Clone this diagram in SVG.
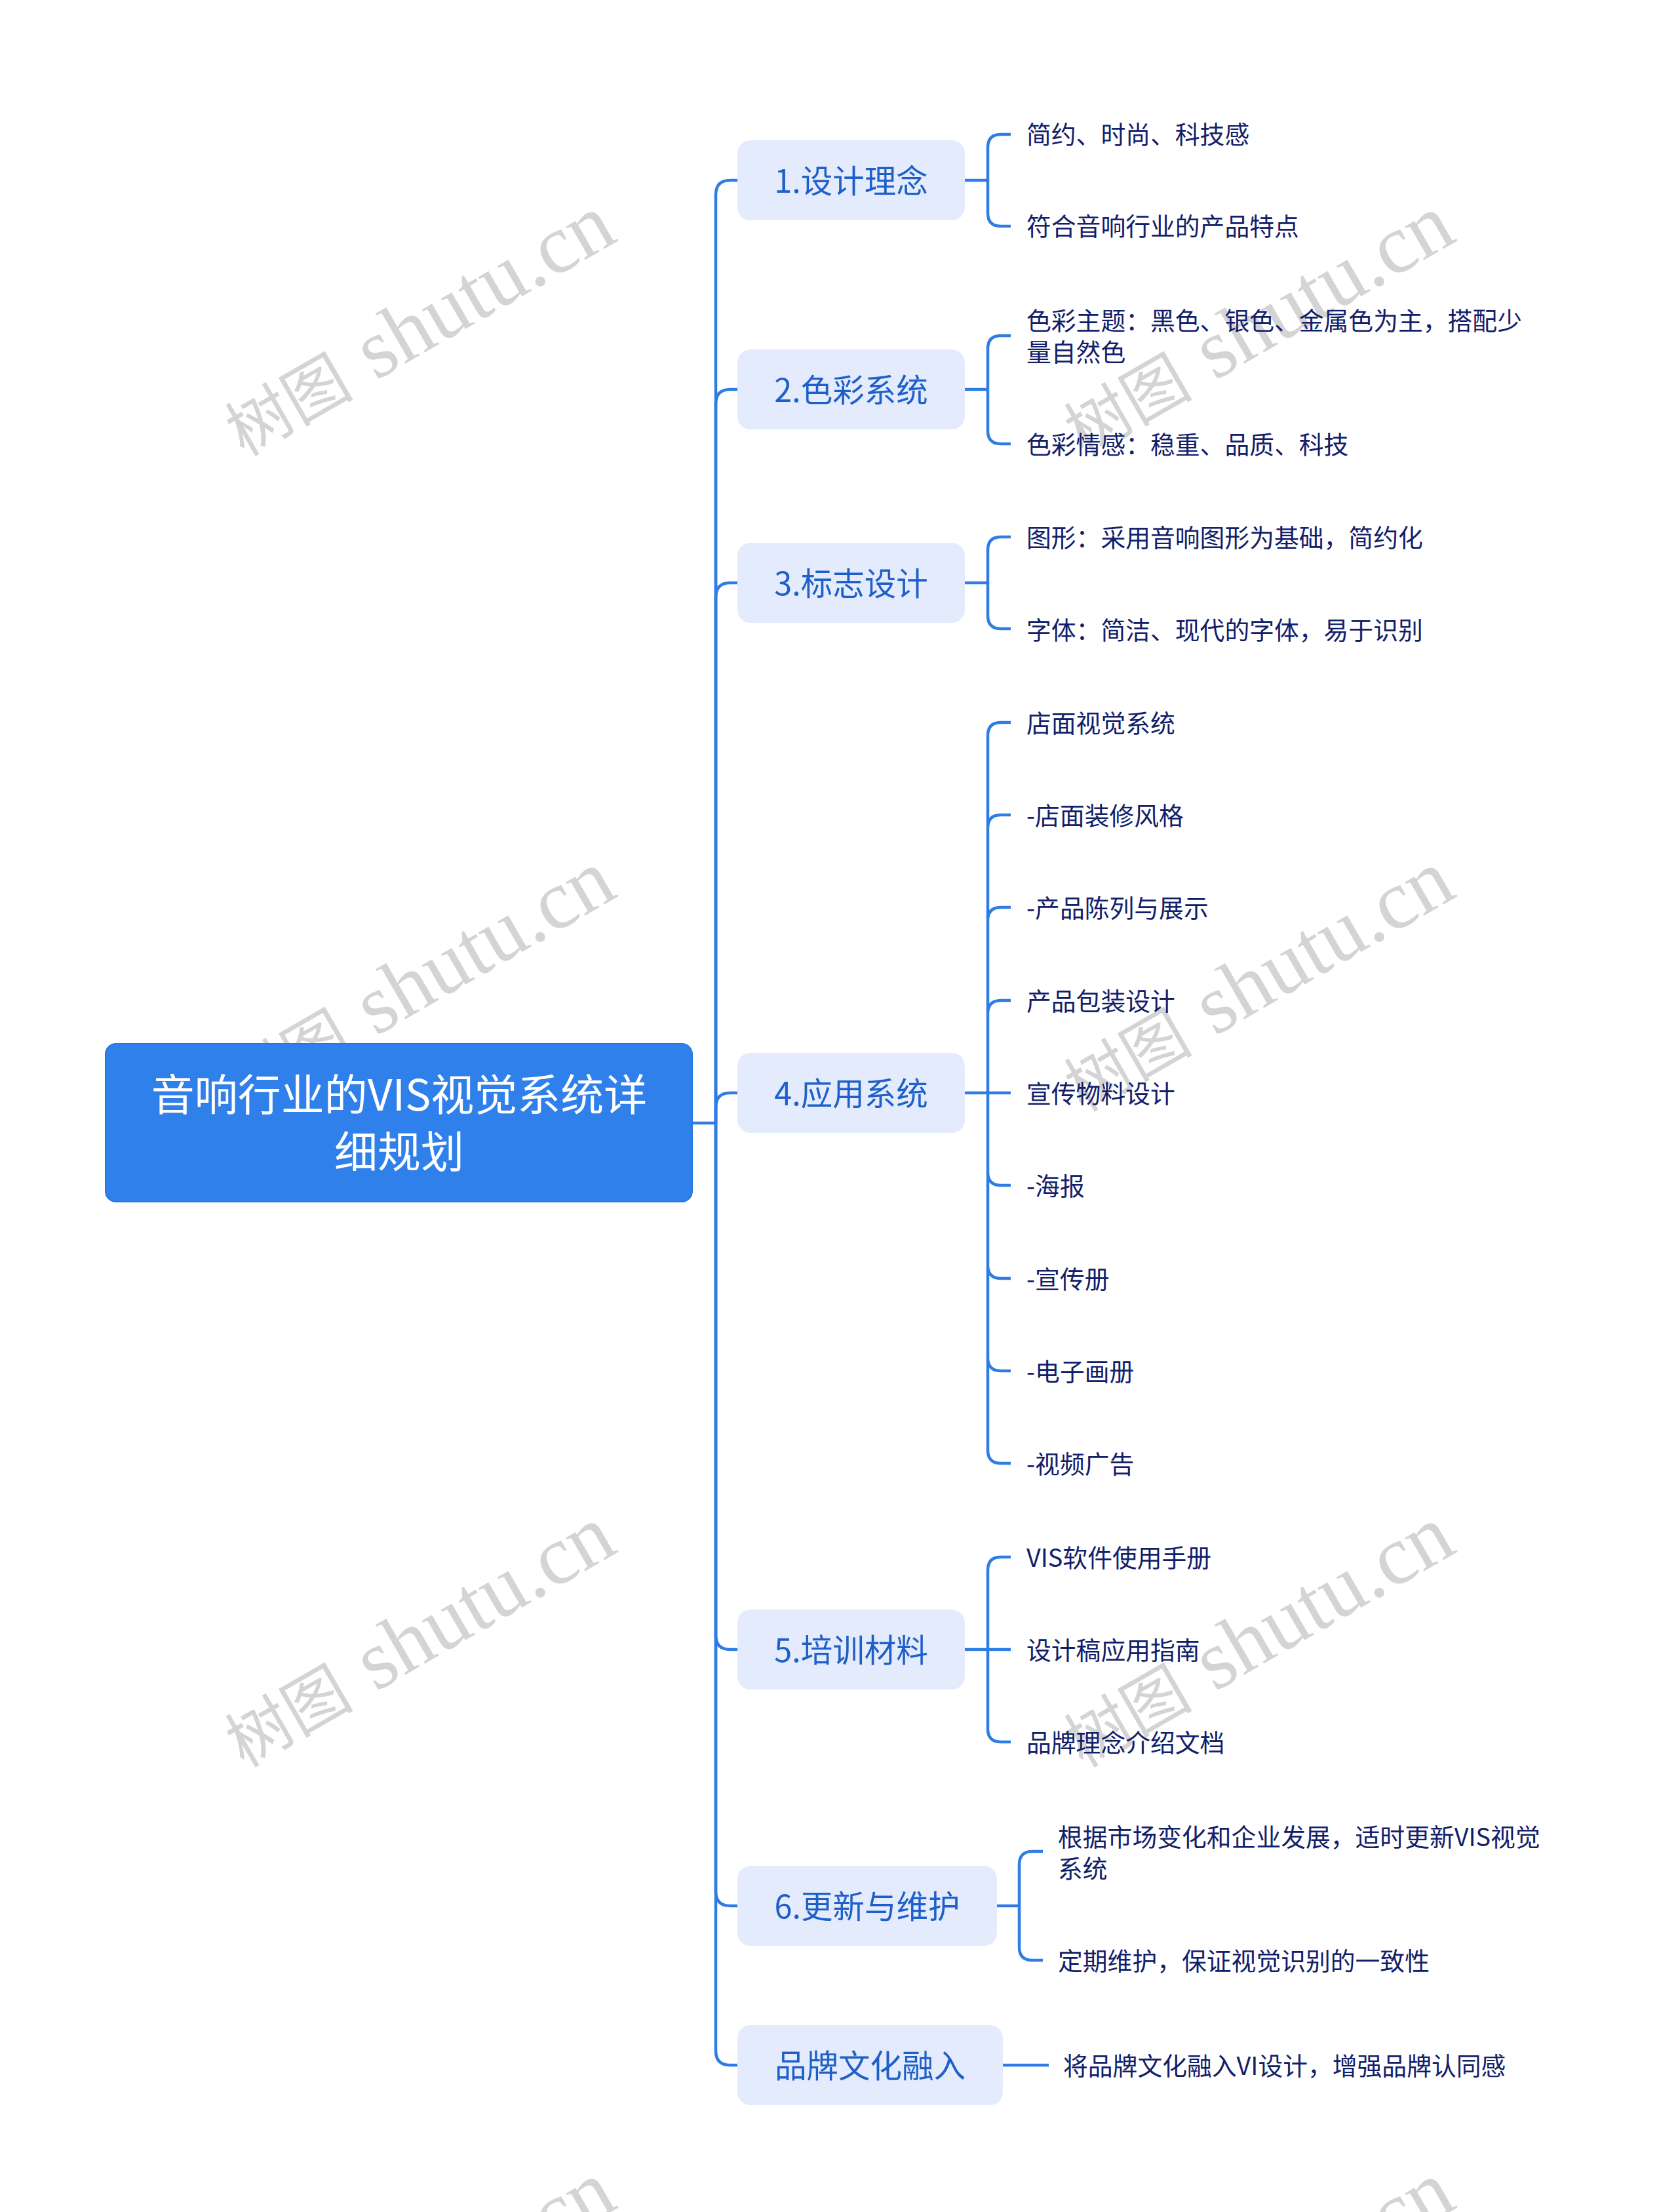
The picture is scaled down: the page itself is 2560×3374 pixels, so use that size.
<svg xmlns="http://www.w3.org/2000/svg" width="2560" height="3374" viewBox="0 0 2560 3374">
<style>
.wm{fill:#d4d4d4;}
.wc{font-family:"Noto Sans CJK SC","Noto Sans CJK TC",serif;font-size:98px;}
.wl{font-family:"Liberation Serif","DejaVu Serif",serif;font-size:128px;}
.root-box{fill:#2f80ea;stroke:#2a76dd;stroke-width:2;}
.root-text{font-family:"Noto Sans CJK SC","Noto Sans",sans-serif;font-size:66px;fill:#ffffff;text-anchor:middle;}
.l1-box{fill:#e3ebfc;}
.l1-text{font-family:"Noto Sans CJK SC","Noto Sans",sans-serif;font-size:48.5px;fill:#1f5fc8;text-anchor:middle;}
.leaf{font-family:"Noto Sans CJK SC","Noto Sans",sans-serif;font-size:37.8px;fill:#12206a;}
.conn path{fill:none;stroke:#2f7de4;stroke-width:4.5;}
</style>
<rect width="2560" height="3374" fill="#ffffff"/>
<g id="watermarks" class="wm">
<text transform="rotate(-30 372 697)" x="372" y="697"><tspan class="wc">树图</tspan><tspan class="wl" dx="36">shutu.cn</tspan></text>
<text transform="rotate(-30 1652 697)" x="1652" y="697"><tspan class="wc">树图</tspan><tspan class="wl" dx="36">shutu.cn</tspan></text>
<text transform="rotate(-30 372 1697)" x="372" y="1697"><tspan class="wc">树图</tspan><tspan class="wl" dx="36">shutu.cn</tspan></text>
<text transform="rotate(-30 1652 1697)" x="1652" y="1697"><tspan class="wc">树图</tspan><tspan class="wl" dx="36">shutu.cn</tspan></text>
<text transform="rotate(-30 372 2697)" x="372" y="2697"><tspan class="wc">树图</tspan><tspan class="wl" dx="36">shutu.cn</tspan></text>
<text transform="rotate(-30 1652 2697)" x="1652" y="2697"><tspan class="wc">树图</tspan><tspan class="wl" dx="36">shutu.cn</tspan></text>
<text transform="rotate(-30 372 3697)" x="372" y="3697"><tspan class="wc">树图</tspan><tspan class="wl" dx="36">shutu.cn</tspan></text>
<text transform="rotate(-30 1652 3697)" x="1652" y="3697"><tspan class="wc">树图</tspan><tspan class="wl" dx="36">shutu.cn</tspan></text>
</g>
<g id="connectors" class="conn">
<path d="M1056 1713 H1092"/>
<path d="M1092 1713 V297 Q1092 275 1114 275 H1125"/>
<path d="M1092 1713 V616 Q1092 594 1114 594 H1125"/>
<path d="M1092 1713 V911 Q1092 889 1114 889 H1125"/>
<path d="M1092 1713 V1689 Q1092 1667 1114 1667 H1125"/>
<path d="M1092 1713 V2494 Q1092 2516 1114 2516 H1125"/>
<path d="M1092 1713 V2885 Q1092 2907 1114 2907 H1125"/>
<path d="M1092 1713 V3128 Q1092 3150 1114 3150 H1125"/>
<path d="M1472 275 H1507 M1507 275 V225 Q1507 205 1527 205 H1542 M1507 275 V325 Q1507 345 1527 345 H1542"/>
<path d="M1472 594 H1507 M1507 594 V532 Q1507 512 1527 512 H1542 M1507 594 V657 Q1507 677 1527 677 H1542"/>
<path d="M1472 889 H1507 M1507 889 V839 Q1507 819 1527 819 H1542 M1507 889 V939 Q1507 959 1527 959 H1542"/>
<path d="M1472 1667 H1542 M1507 1667 V1122 Q1507 1102 1527 1102 H1542 M1507 1667 V1263 Q1507 1243 1527 1243 H1542 M1507 1667 V1404 Q1507 1384 1527 1384 H1542 M1507 1667 V1546 Q1507 1526 1527 1526 H1542 M1507 1667 V1788 Q1507 1808 1527 1808 H1542 M1507 1667 V1930 Q1507 1950 1527 1950 H1542 M1507 1667 V2071 Q1507 2091 1527 2091 H1542 M1507 1667 V2212 Q1507 2232 1527 2232 H1542"/>
<path d="M1472 2516 H1542 M1507 2516 V2395 Q1507 2375 1527 2375 H1542 M1507 2516 V2637 Q1507 2657 1527 2657 H1542"/>
<path d="M1521 2907 H1555 M1555 2907 V2844 Q1555 2824 1575 2824 H1591 M1555 2907 V2970 Q1555 2990 1575 2990 H1591"/>
<path d="M1530 3150 H1600"/>
</g>
<g id="root">
<rect class="root-box" x="161" y="1592" width="895" height="241" rx="16"/>
<text class="root-text" x="609" y="1694">音响行业的VIS视觉系统详</text>
<text class="root-text" x="609" y="1781">细规划</text>
</g>
<g id="n1">
<rect class="l1-box" x="1125" y="214" width="347" height="122" rx="20"/>
<text class="l1-text" x="1298.5" y="294">1.设计理念</text>
</g>
<g id="n1-leaves">
<text class="leaf" x="1566" y="219">简约、时尚、科技感</text>
<text class="leaf" x="1566" y="359">符合音响行业的产品特点</text>
</g>
<g id="n2">
<rect class="l1-box" x="1125" y="533" width="347" height="122" rx="20"/>
<text class="l1-text" x="1298.5" y="613">2.色彩系统</text>
</g>
<g id="n2-leaves">
<text class="leaf" x="1566" y="503">色彩主题：黑色、银色、金属色为主，搭配少</text>
<text class="leaf" x="1566" y="551">量自然色</text>
<text class="leaf" x="1566" y="692">色彩情感：稳重、品质、科技</text>
</g>
<g id="n3">
<rect class="l1-box" x="1125" y="828" width="347" height="122" rx="20"/>
<text class="l1-text" x="1298.5" y="908">3.标志设计</text>
</g>
<g id="n3-leaves">
<text class="leaf" x="1566" y="834">图形：采用音响图形为基础，简约化</text>
<text class="leaf" x="1566" y="975">字体：简洁、现代的字体，易于识别</text>
</g>
<g id="n4">
<rect class="l1-box" x="1125" y="1606" width="347" height="122" rx="20"/>
<text class="l1-text" x="1298.5" y="1686">4.应用系统</text>
</g>
<g id="n4-leaves">
<text class="leaf" x="1566" y="1117">店面视觉系统</text>
<text class="leaf" x="1566" y="1258">-店面装修风格</text>
<text class="leaf" x="1566" y="1399">-产品陈列与展示</text>
<text class="leaf" x="1566" y="1541">产品包装设计</text>
<text class="leaf" x="1566" y="1682">宣传物料设计</text>
<text class="leaf" x="1566" y="1823">-海报</text>
<text class="leaf" x="1566" y="1965">-宣传册</text>
<text class="leaf" x="1566" y="2106">-电子画册</text>
<text class="leaf" x="1566" y="2247">-视频广告</text>
</g>
<g id="n5">
<rect class="l1-box" x="1125" y="2455" width="347" height="122" rx="20"/>
<text class="l1-text" x="1298.5" y="2535">5.培训材料</text>
</g>
<g id="n5-leaves">
<text class="leaf" x="1566" y="2390">VIS软件使用手册</text>
<text class="leaf" x="1566" y="2531">设计稿应用指南</text>
<text class="leaf" x="1566" y="2672">品牌理念介绍文档</text>
</g>
<g id="n6">
<rect class="l1-box" x="1125" y="2846" width="396" height="122" rx="20"/>
<text class="l1-text" x="1323" y="2926">6.更新与维护</text>
</g>
<g id="n6-leaves">
<text class="leaf" x="1614" y="2816">根据市场变化和企业发展，适时更新VIS视觉</text>
<text class="leaf" x="1614" y="2864">系统</text>
<text class="leaf" x="1614" y="3005">定期维护，保证视觉识别的一致性</text>
</g>
<g id="n7">
<rect class="l1-box" x="1125" y="3089" width="405" height="122" rx="20"/>
<text class="l1-text" x="1327.5" y="3169">品牌文化融入</text>
</g>
<g id="n7-leaves">
<text class="leaf" x="1622" y="3165">将品牌文化融入VI设计，增强品牌认同感</text>
</g>
</svg>
